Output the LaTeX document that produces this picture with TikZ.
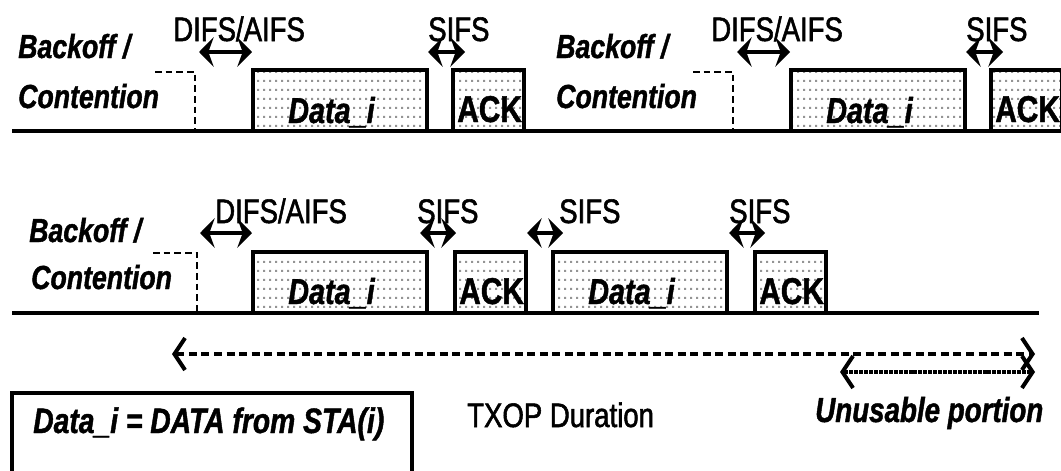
\documentclass[tikz,border=0pt]{standalone}
\usepackage{fontspec}
\usetikzlibrary{arrows.meta,patterns.meta}
\newfontfamily\narrowsans[FakeStretch=0.8,FakeBold=1.2]{Liberation Sans}
\newfontfamily\labelsans[FakeStretch=0.81,FakeBold=1.6]{Liberation Sans}

% light grey dot grid used inside the frame boxes
\tikzdeclarepattern{
  name=framedots,
  type=uncolored,
  bounding box={(0pt,0pt) and (4.6pt,6.8pt)},
  tile size={(4.6pt,6.8pt)},
  code={\fill (0pt,0pt) rectangle (1.8pt,1.8pt);}
}

\tikzset{
  gaptip/.tip={Stealth[length=11pt,width=22pt,inset=4pt]},
  spantip/.tip={Straight Barb[length=8pt,width=24pt,line width=3pt]},
  lbl/.style={inner sep=0pt, anchor=base west, font=\labelsans\fontsize{25.5pt}{25.5pt}\selectfont},
  bko/.style={inner sep=0pt, anchor=base west, font=\narrowsans\bfseries\itshape\fontsize{25pt}{25pt}\selectfont},
  datatxt/.style={inner sep=0pt, anchor=base west, font=\narrowsans\bfseries\itshape\fontsize{27pt}{27pt}\selectfont},
  acktxt/.style={inner sep=0pt, anchor=base west, font=\narrowsans\bfseries\fontsize{28pt}{28pt}\selectfont},
  frame/.style={line width=3pt, pattern=framedots, pattern color=black!42},
  timeline/.style={line width=3.2pt},
  contend/.style={line width=2.2pt, dash pattern=on 5pt off 3pt},
  gap/.style={line width=2.8pt, gaptip-gaptip},
  span/.style={line width=3.4pt, dash pattern=on 6pt off 3.4pt, spantip-spantip},
  short/.style={line width=3pt, dash pattern=on 3pt off 0.7pt, spantip-spantip},
}

\begin{document}
\begin{tikzpicture}[x=0.75pt,y=-0.75pt]
\useasboundingbox[fill=white] (0,0) rectangle (1061,471);

% ---------- first timeline: two single exchanges ----------
\draw[timeline] (12,131) -- (1061,131);
\foreach \g/\o in {a/0,b/538}{
  \begin{scope}[xshift=\o*0.75pt]
    \node[bko] (bk1\g) at (18,58) {Backoff /};
    \node[bko] (ct1\g) at (18,108) {Contention};
    \draw[contend] (155,72) -- (195,72) -- (195,131);
    \node[lbl] (difs1\g) at (173,41) {DIFS/AIFS};
    \coordinate (d1l\g) at (199,52);
    \coordinate (d1r\g) at (252,52);
    \draw[gap] (d1l\g) -- (d1r\g);
    \draw[frame] (253,131) |- (427,70) -- (427,131);
    \node[datatxt] (data1\g) at (288,123) {Data\_i};
    \node[lbl] (sifs1\g) at (428,41) {SIFS};
    \coordinate (s1l\g) at (428,52);
    \coordinate (s1r\g) at (465,52);
    \draw[gap] (s1l\g) -- (s1r\g);
    \draw[frame] (453,131) |- (524,70) -- (524,131);
    \node[acktxt] (ack1\g) at (457,122) {ACK};
  \end{scope}
}

% ---------- second timeline: TXOP burst ----------
\draw[timeline] (12,313) -- (1039,313);
\node[bko] (bk2) at (29,242) {Backoff /};
\node[bko] (ct2) at (31,289) {Contention};
\draw[contend] (153,253) -- (197,253) -- (197,313);
\node[lbl] (difs2) at (215,223) {DIFS/AIFS};
\coordinate (d2l) at (200,233);
\coordinate (d2r) at (252,233);
\draw[gap] (d2l) -- (d2r);
\draw[frame] (253,313) |- (427,252) -- (427,313);
\node[datatxt] (data2a) at (288,304) {Data\_i};
\node[lbl] (sifs2a) at (417,223) {SIFS};
\coordinate (s2al) at (420,233);
\coordinate (s2ar) at (456,233);
\draw[gap] (s2al) -- (s2ar);
\draw[frame] (455,313) |- (526,252) -- (526,313);
\node[acktxt] (ack2a) at (459,304) {ACK};
\node[lbl] (sifs2b) at (559,223) {SIFS};
\coordinate (s2bl) at (527,233);
\coordinate (s2br) at (563,233);
\draw[gap] (s2bl) -- (s2br);
\draw[frame] (553,313) |- (727,252) -- (727,313);
\node[datatxt] (data2b) at (588,304) {Data\_i};
\node[lbl] (sifs2c) at (729,223) {SIFS};
\coordinate (s2cl) at (729,233);
\coordinate (s2cr) at (765,233);
\draw[gap] (s2cl) -- (s2cr);
\draw[frame] (755,313) |- (826,252) -- (826,313);
\node[acktxt] (ack2b) at (759,304) {ACK};

% ---------- durations ----------
\coordinate (txl) at (172,354);
\coordinate (txr) at (1035,354);
\draw[span] (txl) -- (txr);
\coordinate (unl) at (840,372);
\coordinate (unr) at (1035,372);
\draw[short] (unl) -- (unr);
\node[lbl, font=\labelsans\fontsize{25.5pt}{25.5pt}\selectfont] (txop) at (467,427) {TXOP Duration};
\node[bko, font=\narrowsans\bfseries\itshape\fontsize{26pt}{26pt}\selectfont] (unus) at (815,422) {Unusable portion};

% ---------- legend ----------
\draw[line width=2.6pt] (12,480) |- (412,393) -- (412,480);
\node[bko, font=\narrowsans\bfseries\itshape\fontsize{26.5pt}{26.5pt}\selectfont] (legend) at (33,433) {Data\_i = DATA from STA(i)};
\end{tikzpicture}
\end{document}
